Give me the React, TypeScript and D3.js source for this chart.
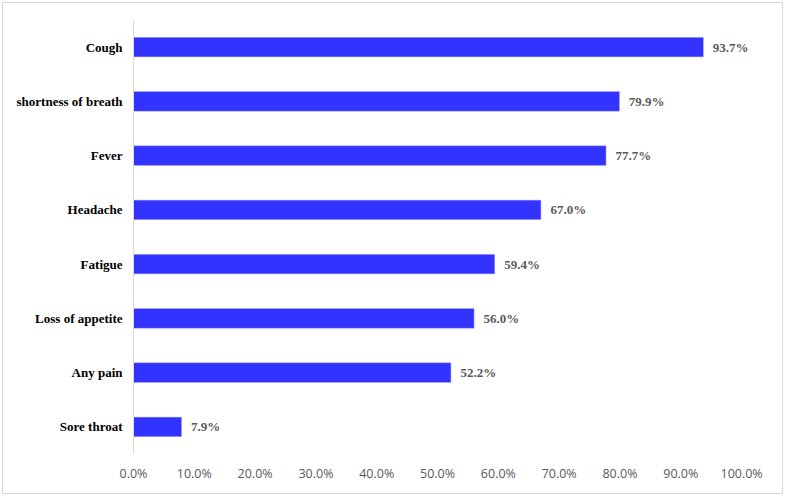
import React from "react";
import * as d3 from "d3";

const categories = ["Cough", "shortness of breath", "Fever", "Headache", "Fatigue", "Loss of appetite", "Any pain", "Sore throat"];
const values = [93.7, 79.9, 77.7, 67.0, 59.4, 56.0, 52.2, 7.9];
const ticks = [0, 10, 20, 30, 40, 50, 60, 70, 80, 90, 100];

const W = 785, H = 496;
const x0 = 133.5, x1 = 741.6, yTop = 20, yBot = 454;

export default function App() {
  const x = d3.scaleLinear().domain([0, 100]).range([x0, x1]);
  const y = d3.scaleBand<string>().domain(categories).range([yTop, yBot]).paddingInner(0.64).paddingOuter(0.32);
  return (
    <svg width={W} height={H} style={{ position: "absolute", left: 0, top: 0 }}>
      <rect x={2.5} y={2.5} width={W - 5} height={H - 5} fill="#fff" stroke="#d9d9d9" />
      {categories.map((c, i) => (
        <g key={c}>
          <rect x={x(0)} y={y(c)!} width={x(values[i]) - x(0)} height={y.bandwidth()} fill="#3333ff" stroke="#9a9aff" strokeWidth={0.5} />
          <text x={x(0) - 11} y={y(c)! + y.bandwidth() / 2} dy="0.35em" textAnchor="end" fontFamily="'Liberation Serif', serif" fontWeight="bold" fontSize={13} fill="#000">{c}</text>
          <text x={x(values[i]) + 9.5} y={y(c)! + y.bandwidth() / 2} dy="0.35em" textAnchor="start" fontFamily="'Liberation Serif', serif" fontWeight="bold" fontSize={13} fill="#595959">{values[i].toFixed(1)}%</text>
        </g>
      ))}
      <line x1={x(0)} x2={x(0)} y1={yTop} y2={yBot} stroke="#d9d9d9" />
      {ticks.map(t => (
        <text key={t} x={x(t)} y={474} dy="0.35em" textAnchor="middle" fontFamily="'Open Sans', sans-serif" fontSize={12.5} fill="#595959">{t.toFixed(1)}%</text>
      ))}
    </svg>
  );
}
